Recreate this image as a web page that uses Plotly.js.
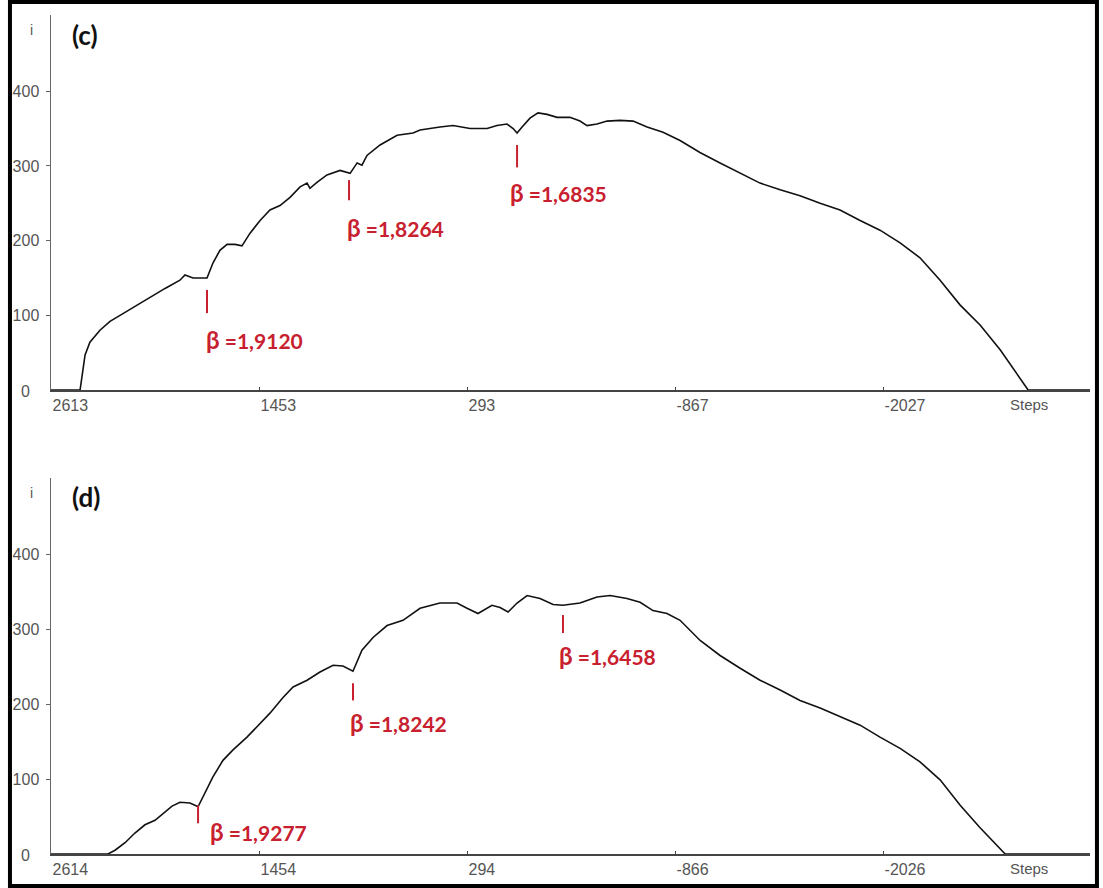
<!DOCTYPE html>
<html>
<head>
<meta charset="utf-8">
<script src="https://cdn.plot.ly/plotly-3.0.1.min.js"></script>
<style>html,body{margin:0;padding:0;background:#fff;}#chart{width:1103px;height:888px;}</style>
</head>
<body>
<div id="chart"></div>
<script>
// Panel (c)
const stepsC = [2613,2451,2423,2396,2340,2284,2228,2145,2061,1977,1894,1866,1821,1743,1710,1671,1631,1587,1548,1503,1447,1392,1336,1280,1224,1185,1169,1130,1074,1001,945,906,879,851,778,683,594,555,444,371,276,181,126,70,36,14,-14,-58,-103,-153,-209,-281,-337,-376,-432,-488,-560,-633,-711,-800,-895,-1006,-1118,-1230,-1341,-1453,-1564,-1676,-1787,-1899,-2010,-2122,-2233,-2345,-2456,-2568,-2680,-2836,-3181];
const iC = [0,0,47,64,80,92,100,112,124,136,147,154,150,150,170,187,195,195,193,210,227,241,247,258,272,277,270,278,288,294,290,304,301,314,328,341,344,348,352,354,350,350,354,356,350,344,352,364,371,369,365,365,360,354,356,360,361,360,352,345,334,318,304,290,277,268,260,250,241,227,214,197,177,147,114,87,54,0,0];
// Panel (d)
const stepsD = [2614,2296,2257,2201,2146,2090,2034,1978,1939,1895,1839,1794,1755,1711,1655,1599,1521,1448,1393,1320,1264,1186,1114,1041,986,930,880,818,740,651,556,445,350,294,233,155,110,65,15,-41,-113,-186,-241,-336,-431,-504,-598,-671,-743,-821,-894,-1006,-1117,-1229,-1340,-1452,-1563,-1675,-1786,-1898,-2009,-2121,-2232,-2344,-2456,-2567,-2707,-3180];
const iD = [0,0,5,15,28,39,45,56,64,69,68,63,81,103,125,139,156,175,188,209,223,232,243,252,251,244,272,289,305,312,328,335,335,328,321,332,329,323,335,345,341,333,332,335,343,345,341,336,325,321,312,285,265,248,232,219,205,195,184,172,156,141,123,99,65,35,0,0];

const tickValsC = [2613,1453,293,-867,-2027];
const tickValsD = [2614,1454,294,-866,-2026];
const yTicks = [100,200,300,400];

// beta markers: [step, tickTop, tickBottom, labelStep, labelY, text]
const betaC = [
  {x:1743, y0:103, y1:134, tx:1760, ty:67, t:"1,9120"},
  {x:951,  y0:254, y1:281, tx:973,  ty:217, t:"1,8264"},
  {x:14,   y0:298, y1:328, tx:64,   ty:265, t:"1,6835"}
];
const betaD = [
  {x:1794, y0:41,  y1:65,  tx:1738, ty:30,  t:"1,9277"},
  {x:930,  y0:205, y1:228, tx:958,  ty:176, t:"1,8242"},
  {x:-241, y0:295, y1:319, tx:-208, ty:265, t:"1,6458"}
];

const red = "#c8202e";
const axisFont = {family:"Liberation Sans, Arial, sans-serif", size:16, color:"#555"};

const traces = [
  {x:stepsC, y:iC, type:"scatter", mode:"lines", line:{color:"#111", width:1.6}, xaxis:"x", yaxis:"y", hoverinfo:"skip"},
  {x:stepsD, y:iD, type:"scatter", mode:"lines", line:{color:"#111", width:1.6}, xaxis:"x2", yaxis:"y2", hoverinfo:"skip"}
];

function xax(range, tv, anchor){
  return {range:range, domain:[0,1], anchor:anchor, showgrid:false, zeroline:false,
    showline:true, linecolor:"#444", linewidth:2, tickmode:"array", tickvals:tv, ticktext:tv.map(String),
    ticks:"inside", ticklen:3, tickcolor:"#444", tickfont:axisFont, ticklabelposition:"outside right"};
}
function yax(domain, anchor){
  return {range:[0,502], domain:domain, anchor:anchor, showgrid:false, zeroline:false,
    showline:true, linecolor:"#666", linewidth:1.5, tickmode:"array", tickvals:yTicks, ticktext:yTicks.map(String),
    ticks:"outside", ticklen:4, tickcolor:"#666", tickfont:axisFont, ticklabelstandoff:3};
}

const annotations = [];
const shapes = [];
function addBeta(list, xr, yr){
  list.forEach(b => {
    shapes.push({type:"line", xref:xr, yref:yr, x0:b.x, x1:b.x, y0:b.y0, y1:b.y1, line:{color:red, width:2}});
    annotations.push({xref:xr, yref:yr, x:b.tx, y:b.ty, xanchor:"left", yanchor:"middle", showarrow:false,
      text:"<span style='font-size:24px'>β</span> =" + b.t,
      font:{family:"Lato, Open Sans, sans-serif", size:21, color:red, weight:"bold"}});
  });
}
addBeta(betaC, "x", "y");
addBeta(betaD, "x2", "y2");

const txtFont = {family:"Liberation Sans, Arial, sans-serif", size:15, color:"#555"};
annotations.push(
  {xref:"paper", yref:"paper", x:0.9211, y:0.5352, xanchor:"left", yanchor:"middle", showarrow:false, text:"Steps", font:txtFont},
  {xref:"paper", yref:"paper", x:0.9211, y:-0.0167, xanchor:"left", yanchor:"middle", showarrow:false, text:"Steps", font:txtFont},
  {xref:"paper", yref:"paper", x:-0.0183, y:0.9821, xanchor:"center", yanchor:"middle", showarrow:false, text:"i", font:{family:"Liberation Sans, Arial, sans-serif", size:14, color:"#555"}},
  {xref:"paper", yref:"paper", x:-0.0183, y:0.4303, xanchor:"center", yanchor:"middle", showarrow:false, text:"i", font:{family:"Liberation Sans, Arial, sans-serif", size:14, color:"#555"}},
  {xref:"paper", yref:"paper", x:-0.0241, y:0.5518, xanchor:"center", yanchor:"middle", showarrow:false, text:"0", font:axisFont},
  {xref:"paper", yref:"paper", x:-0.0241, y:-0.0012, xanchor:"center", yanchor:"middle", showarrow:false, text:"0", font:axisFont},
  {xref:"paper", yref:"paper", x:0.0183, y:0.9762, xanchor:"left", yanchor:"middle", showarrow:false, text:"(c)", font:{family:"Lato, Open Sans, sans-serif", size:26, color:"#111", weight:"bold"}},
  {xref:"paper", yref:"paper", x:0.0183, y:0.4255, xanchor:"left", yanchor:"middle", showarrow:false, text:"(d)", font:{family:"Lato, Open Sans, sans-serif", size:26, color:"#111", weight:"bold"}}
);
// outer frame
shapes.push({type:"rect", xref:"paper", yref:"paper", x0:-0.0395, x1:1.0067, y0:-0.0381, y1:1.0155, line:{color:"#000", width:4}, fillcolor:"rgba(0,0,0,0)"});

const layout = {
  width:1103, height:888, margin:{l:51, r:13, t:15, b:34},
  paper_bgcolor:"#fff", plot_bgcolor:"#fff", showlegend:false,
  xaxis: xax([2613,-3181], tickValsC, "y"),
  yaxis: yax([0.553,1], "x"),
  xaxis2: xax([2614,-3180], tickValsD, "y2"),
  yaxis2: yax([0,0.4482], "x2"),
  annotations: annotations, shapes: shapes
};
Plotly.newPlot("chart", traces, layout, {displayModeBar:false, staticPlot:true});
</script>
</body>
</html>
